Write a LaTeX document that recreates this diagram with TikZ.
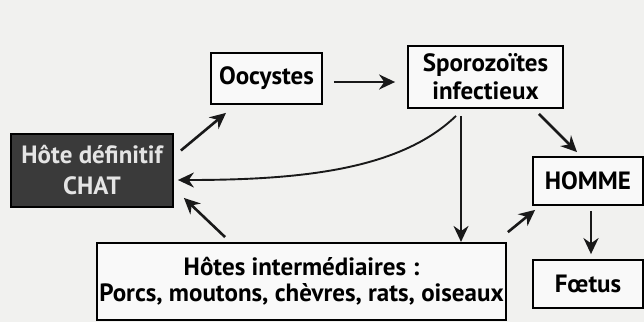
\documentclass[tikz,border=0pt]{standalone}
\usepackage{fontspec}
\setmainfont{PT Sans}
\usetikzlibrary{arrows.meta,positioning,calc}
\definecolor{scanbg}{HTML}{F1F1EF}
\definecolor{hostdark}{HTML}{3A3A3A}
\definecolor{hosttext}{HTML}{E4E4E4}

\begin{document}
\begin{tikzpicture}[
  x=1pt, y=-1pt,
  box/.style={draw=black, line width=1.8pt, fill=white!60!scanbg,
              font=\fontsize{25}{26}\selectfont\bfseries, align=center,
              inner sep=0pt, text=black},
  hostbox/.style={box, fill=hostdark, text=hosttext,
                  font=\fontsize{25}{31}\selectfont\bfseries},
  arrow/.style={-{Stealth[length=16pt, width=15pt]}, line width=2.6pt, black!90},
  thinarrow/.style={arrow, line width=1.9pt},
]
  \useasboundingbox[fill=scanbg] (0,0) rectangle (644,322);

  %% Boxes
  \node[box, minimum width=111pt, minimum height=51pt] (oocy) at (266.5,78.5) {Oocystes};
  \node[box, minimum width=155pt, minimum height=62pt, font=\fontsize{25}{28}\selectfont\bfseries]
    (sporo) at (485.5,77) {Sporozoïtes\\infectieux};
  \node[hostbox, minimum width=162pt, minimum height=73pt] (chat) at (92,170.5) {Hôte définitif\\CHAT};
  \node[box, minimum width=110pt, minimum height=48pt] (homme) at (588,181) {HOMME};
  \node[box, minimum width=110pt, minimum height=48pt] (foetus) at (588,284) {Fœtus};
  \node[box, minimum width=409pt, minimum height=77pt] (hotes) at (301.5,281.5)
    {Hôtes intermédiaires :\\Porcs, moutons, chèvres, rats, oiseaux};

  %% Arrows
  \draw[arrow] ($(chat.east)+(7,-20)$) -- ($(oocy.south)+(-40.5,8)$);
  \draw[arrow] ($(oocy.east)+(11,3.5)$) -- ($(sporo.west)+(-12,5)$);
  \draw[arrow] ($(sporo.south east)+(-25,5)$) -- ($(homme.north)+(-11,-4)$);
  \draw[thinarrow] ($(sporo.south)+(-29.5,7)$)
    .. controls (400,170) and (300,180) .. ($(chat.east)+(4,9.5)$);
  \draw[thinarrow] ($(sporo.south)+(-24.5,7)$) -- ($(sporo.south)+(-24.5,133)$);
  \draw[arrow] ($(hotes.north east)+(1,-10)$) -- ($(homme.south west)+(3,4)$);
  \draw[arrow] ($(hotes.north west)+(129,-5)$) -- ($(chat.south east)+(10,-10)$);
  \draw[arrow] ($(homme.south)+(3,5)$) -- ($(foetus.north)+(3,-5)$);

\end{tikzpicture}
\end{document}
